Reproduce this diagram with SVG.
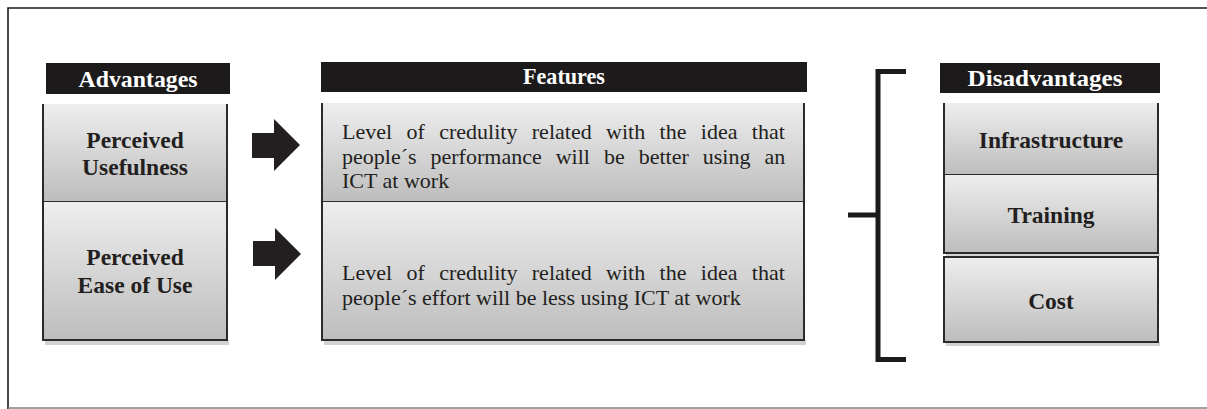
<svg xmlns="http://www.w3.org/2000/svg" width="1207" height="409" viewBox="0 0 1207 409" font-family="'Liberation Serif', serif">
<style>
text { font-family: 'Liberation Serif', serif; }
.hdr { fill: #1c1a1b; }
.htxt { font-weight: bold; font-size: 23px; fill: #ffffff; text-anchor: middle; }
.edge { fill: none; stroke: #2b2b2b; stroke-width: 2; }
.shadow { fill: #d2d2d2; }
.lbl { font-weight: bold; font-size: 23.5px; fill: #231f20; text-anchor: middle; }
.body { font-size: 22px; fill: #231f20; }
.arrow { fill: #231f20; }
.brk { fill: none; stroke: #1c1a1b; stroke-width: 5; }
</style>
<defs>
<linearGradient id="g" x1="0" y1="0" x2="0" y2="1">
<stop offset="0" stop-color="#eeeeee"/>
<stop offset="1" stop-color="#bdbdbd"/>
</linearGradient>
</defs>
<rect width="1207" height="409" fill="#fff"/>
<g id="frame">
<path d="M8 409 V8 H1207" fill="none" stroke="#1c1a1b" stroke-width="1.6"/>
<line x1="8" y1="408" x2="1207" y2="408" stroke="#808080" stroke-width="1.6"/>
</g>
<g id="hdr-advantages">
<rect class="hdr" x="46" y="63" width="184" height="31"/>
<text class="htxt" x="138" y="87" style="font-family:'Liberation Serif',serif" textLength="119" lengthAdjust="spacingAndGlyphs">Advantages</text>
</g>
<g id="hdr-features">
<rect class="hdr" x="321" y="62" width="486" height="30"/>
<text class="htxt" x="564" y="84" style="font-family:'Liberation Serif',serif" textLength="82" lengthAdjust="spacingAndGlyphs">Features</text>
</g>
<g id="hdr-disadvantages">
<rect class="hdr" x="940" y="63" width="220" height="30"/>
<text class="htxt" x="1045" y="86" style="font-family:'Liberation Serif',serif" textLength="155" lengthAdjust="spacingAndGlyphs">Disadvantages</text>
</g>
<g id="node-usefulness">
<rect x="43" y="104" width="184" height="98" fill="url(#g)"/>
<path class="edge" d="M43 104 V202 H227 V104"/>
<text class="lbl" x="135" y="148" style="font-family:'Liberation Serif',serif">Perceived</text>
<text class="lbl" x="135" y="175" style="font-family:'Liberation Serif',serif">Usefulness</text>
</g>
<g id="node-ease">
<rect class="shadow" x="45" y="340" width="184" height="5"/>
<rect x="43" y="202" width="184" height="138" fill="url(#g)"/>
<path class="edge" d="M43 202 V340 H227 V202"/>
<text class="lbl" x="135" y="265" style="font-family:'Liberation Serif',serif">Perceived</text>
<text class="lbl" x="135" y="293" style="font-family:'Liberation Serif',serif">Ease of Use</text>
</g>
<g id="node-feature-1">
<rect x="322" y="103" width="482" height="99" fill="url(#g)"/>
<path class="edge" d="M322 103 V202 H804 V103"/>
<text class="body" x="342" y="139" style="font-family:'Liberation Serif',serif" word-spacing="8.9">Level of credulity related with the idea that</text>
<text class="body" x="342" y="164" style="font-family:'Liberation Serif',serif" word-spacing="8.5">people´s performance will be better using an</text>
<text class="body" x="342" y="188" style="font-family:'Liberation Serif',serif">ICT at work</text>
</g>
<g id="node-feature-2">
<rect class="shadow" x="324" y="340" width="482" height="5"/>
<rect x="322" y="202" width="482" height="138" fill="url(#g)"/>
<path class="edge" d="M322 202 V340 H804 V202"/>
<text class="body" x="342" y="280" style="font-family:'Liberation Serif',serif" word-spacing="8.9">Level of credulity related with the idea that</text>
<text class="body" x="342" y="305" style="font-family:'Liberation Serif',serif">people´s effort will be less using ICT at work</text>
</g>
<g id="node-infrastructure">
<rect x="944" y="103" width="214" height="72" fill="url(#g)"/>
<path class="edge" d="M944 103 V175 H1158 V103"/>
<text class="lbl" x="1051" y="148" style="font-family:'Liberation Serif',serif">Infrastructure</text>
</g>
<g id="node-training">
<rect class="shadow" x="946" y="253" width="214" height="3"/>
<rect x="944" y="175" width="214" height="78" fill="url(#g)"/>
<path class="edge" d="M944 175 V253 H1158 V175"/>
<text class="lbl" x="1051" y="223" style="font-family:'Liberation Serif',serif">Training</text>
</g>
<g id="node-cost">
<rect class="shadow" x="946" y="342" width="214" height="4"/>
<rect x="944" y="257" width="214" height="85" fill="url(#g)"/>
<path class="edge" d="M944 257 H1158 V342 H944 Z"/>
<text class="lbl" x="1051" y="309" style="font-family:'Liberation Serif',serif">Cost</text>
</g>
<g id="connectors">
<path class="arrow" d="M252 133 H274 V119 L300 145 L274 171 V158 H252 Z"/>
<path class="arrow" d="M253 241 H275 V228 L301 254 L275 280 V266 H253 Z"/>
<path class="brk" d="M906 71.5 H878 V359.5 H906"/>
<line class="brk" x1="848" y1="215" x2="878" y2="215"/>
</g>
</svg>
